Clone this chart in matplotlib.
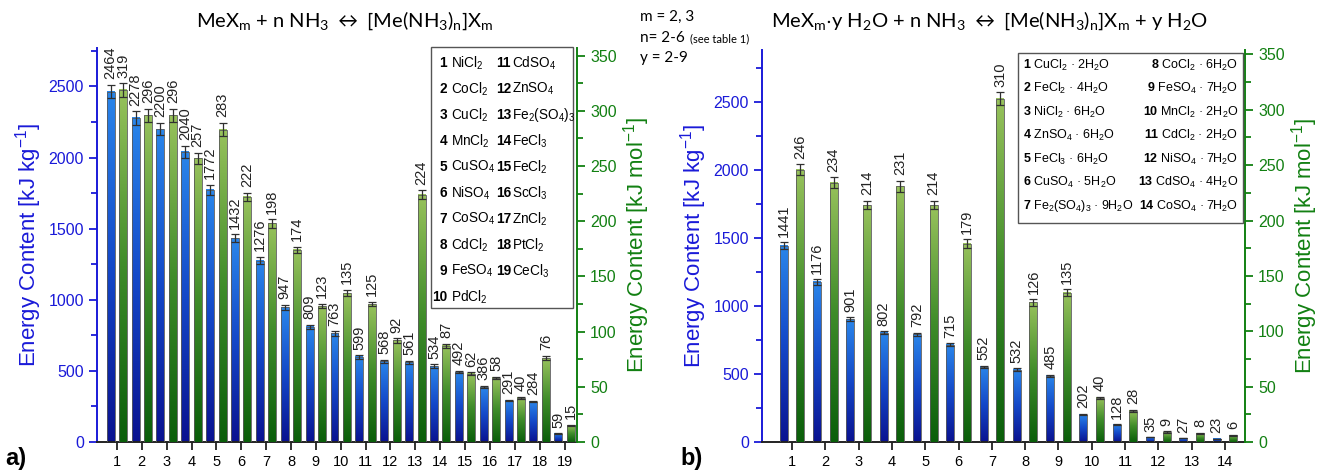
import numpy as np
import matplotlib
matplotlib.use("Agg")
import matplotlib.pyplot as plt
from matplotlib.colors import LinearSegmentedColormap
from matplotlib.patches import Rectangle
from matplotlib.ticker import MultipleLocator

plt.rcParams['font.family'] = ['Liberation Sans', 'DejaVu Sans']
plt.rcParams['mathtext.fontset'] = 'custom'
plt.rcParams['mathtext.rm'] = 'Liberation Sans'
plt.rcParams['mathtext.bf'] = 'Liberation Sans:bold'
plt.rcParams['mathtext.default'] = 'regular'

# ---- data: panel a) anhydrous salts ----
a_kg = [2464, 2278, 2200, 2040, 1772, 1432, 1276, 947, 809, 763,
        599, 568, 561, 534, 492, 386, 291, 284, 59]
a_kg_err = [49, 46, 44, 41, 35, 29, 26, 19, 16, 15, 12, 11, 11, 11, 10, 8, 6, 6, 2]
a_mol = [319, 296, 296, 257, 283, 222, 198, 174, 123, 135,
         125, 92, 224, 87, 62, 58, 40, 76, 15]
a_mol_err = [6, 6, 6, 5, 6, 4, 4, 3, 2, 3, 2, 2, 4, 2, 1, 1, 1, 2, 0.5]
a_names = ['NiCl$_2$', 'CoCl$_2$', 'CuCl$_2$', 'MnCl$_2$', 'CuSO$_4$', 'NiSO$_4$',
           'CoSO$_4$', 'CdCl$_2$', 'FeSO$_4$', 'PdCl$_2$', 'CdSO$_4$', 'ZnSO$_4$',
           'Fe$_2$(SO$_4$)$_3$', 'FeCl$_3$', 'FeCl$_2$', 'ScCl$_3$', 'ZnCl$_2$',
           'PtCl$_2$', 'CeCl$_3$']

# ---- data: panel b) hydrated salts ----
b_kg = [1441, 1176, 901, 802, 792, 715, 552, 532, 485, 202, 128, 35, 27, 23]
b_kg_err = [25, 20, 15, 12, 12, 10, 9, 9, 8, 4, 3, 1, 1, 1]
b_mol = [246, 234, 214, 231, 214, 179, 310, 126, 135, 40, 28, 9, 8, 6]
b_mol_err = [5, 5, 4, 5, 4, 4, 6, 3, 3, 1, 1, 0.5, 0.5, 0.5]
b_names = ['CuCl$_2$ · 2H$_2$O', 'FeCl$_2$ · 4H$_2$O', 'NiCl$_2$ · 6H$_2$O',
           'ZnSO$_4$ · 6H$_2$O', 'FeCl$_3$ · 6H$_2$O', 'CuSO$_4$ · 5H$_2$O',
           'Fe$_2$(SO$_4$)$_3$ · 9H$_2$O', 'CoCl$_2$ · 6H$_2$O', 'FeSO$_4$ · 7H$_2$O',
           'MnCl$_2$ · 2H$_2$O', 'CdCl$_2$ · 2H$_2$O', 'NiSO$_4$ · 7H$_2$O',
           'CdSO$_4$ · 4H$_2$O', 'CoSO$_4$ · 7H$_2$O']

BLUE = '#1a1ad8'
GREEN = '#128012'
blue_cm = LinearSegmentedColormap.from_list('b', ['#0a1290', '#1448c8', '#2a86ea'])
green_cm = LinearSegmentedColormap.from_list('g', ['#0a5e0a', '#3f8c2a', '#98c25c'])
grad = np.linspace(0, 1, 256).reshape(-1, 1)


def grad_bars(ax, x, h, err, w, cmap):
    bars = ax.bar(x, h, w, color='none', edgecolor='#5a5a5a', linewidth=0.6, zorder=3)
    for b in bars:
        x0 = b.get_x()
        ax.imshow(grad, extent=[x0, x0 + b.get_width(), 0, b.get_height()],
                  origin='lower', aspect='auto', cmap=cmap, zorder=2)
    ax.errorbar(x, h, yerr=err, fmt='none', ecolor='#303030', elinewidth=0.9,
                capsize=3, capthick=0.9, zorder=4)
    for xi, hi, ei in zip(x, h, err):
        ax.annotate(str(hi), (xi, hi + ei), xytext=(0, 4), textcoords='offset points',
                    rotation=90, ha='center', va='bottom', fontsize=10.5,
                    color='#222222', annotation_clip=False, zorder=5)


def panel(rect, kg, kg_err, mol, mol_err, xlim, ylim1, ylim2, w, off):
    ax = fig.add_axes(rect)
    ax2 = ax.twinx()
    n = len(kg)
    idx = np.arange(1, n + 1)
    grad_bars(ax, idx - off, kg, kg_err, w, blue_cm)
    grad_bars(ax2, idx + off, mol, mol_err, w, green_cm)
    ax.set_xlim(*xlim)
    ax.set_ylim(0, ylim1)
    ax2.set_ylim(0, ylim2)
    ax.set_xticks(idx)
    ax.set_xticklabels([str(i) for i in idx], fontsize=10.5)
    ax.yaxis.set_major_locator(MultipleLocator(500))
    ax.yaxis.set_minor_locator(MultipleLocator(250))
    ax2.yaxis.set_major_locator(MultipleLocator(50))
    ax2.yaxis.set_minor_locator(MultipleLocator(25))
    for a in (ax, ax2):
        a.spines['top'].set_visible(False)
        for s in a.spines.values():
            s.set_linewidth(1.4)
    ax.spines['right'].set_visible(False)
    ax2.spines['left'].set_visible(False)
    ax2.spines['bottom'].set_visible(False)
    ax.spines['left'].set_color(BLUE)
    ax2.spines['right'].set_color(GREEN)
    ax.spines['bottom'].set_color('#222222')
    ax.tick_params(axis='y', which='both', colors=BLUE, labelsize=11.5, direction='out')
    ax.tick_params(axis='y', which='major', length=6, width=1.3)
    ax.tick_params(axis='y', which='minor', length=4, width=1.3)
    ax2.tick_params(axis='y', which='both', colors=GREEN, labelsize=11.5, direction='out')
    ax2.tick_params(axis='y', which='major', length=6, width=1.3)
    ax2.tick_params(axis='y', which='minor', length=4, width=1.3)
    ax.tick_params(axis='x', length=6, width=1.3, direction='out', colors='#222222',
                   labelcolor='black')
    ax.set_ylabel('Energy Content [kJ kg$^{-1}$]', color=BLUE, fontsize=16, labelpad=3)
    ax2.set_ylabel('Energy Content [kJ mol$^{-1}$]', color=GREEN, fontsize=16, labelpad=3)
    return ax, ax2


fig = plt.figure(figsize=(13.26, 4.71), dpi=100)

W, H = 1326.0, 471.0
axa, axa2 = panel([97 / W, 29 / H, 480 / W, 394 / H], a_kg, a_kg_err, a_mol, a_mol_err,
                  (0.2, 19.5), 2770, 357, 0.32, 0.25)
axb, axb2 = panel([762 / W, 29 / H, 483 / W, 392 / H], b_kg, b_kg_err, b_mol, b_mol_err,
                  (0.1, 14.6), 2880, 354, 0.24, 0.25)


def px(x, y):
    return x / W, 1 - y / H


# ---- legend boxes (drawn by hand as in the original) ----
x0, y0 = px(431, 308)
fig.patches.append(Rectangle((x0, y0), 142 / W, 261 / H, transform=fig.transFigure,
                             facecolor='white', edgecolor='#555555', linewidth=1.0, zorder=10))
for i, name in enumerate(a_names):
    col, row = divmod(i, 10)
    y = 63 + 26 * row
    if col == 0:
        fig.text(*px(447, y), str(i + 1), ha='right', va='center', fontsize=9.8,
                 fontweight='bold', zorder=11)
        fig.text(*px(451, y), name, ha='left', va='center', fontsize=9.8, zorder=11)
    else:
        fig.text(*px(496, y), str(i + 1), ha='left', va='center', fontsize=9.8,
                 fontweight='bold', zorder=11)
        fig.text(*px(512, y), name, ha='left', va='center', fontsize=9.8, zorder=11)

x0, y0 = px(1018, 223)
fig.patches.append(Rectangle((x0, y0), 225 / W, 170 / H, transform=fig.transFigure,
                             facecolor='white', edgecolor='#555555', linewidth=1.0, zorder=10))
for i, name in enumerate(b_names):
    col, row = divmod(i, 7)
    y = 65 + 23.5 * row
    s = r'$\mathbf{%d}$ ' % (i + 1) + name
    if col == 0:
        fig.text(*px(1023, y), s, ha='left', va='center', fontsize=9, zorder=11)
    else:
        fig.text(*px(1238, y), s, ha='right', va='center', fontsize=9, zorder=11)

# ---- titles and notes ----
tfont = ['Lato', 'DejaVu Sans']
fig.text(345 / W, 1 - 21 / H,
         r'MeX$_m$ + n NH$_3$ $\leftrightarrow$ [Me(NH$_3$)$_n$]X$_m$',
         ha='center', va='center', fontsize=14.5, family=tfont)
fig.text(990 / W, 1 - 21 / H,
         r'MeX$_m$$\cdot$y H$_2$O + n NH$_3$ $\leftrightarrow$ [Me(NH$_3$)$_n$]X$_m$ + y H$_2$O',
         ha='center', va='center', fontsize=14.5, family=tfont)
fig.text(640 / W, 1 - 17 / H, 'm = 2, 3', ha='left', va='center', fontsize=11, family=tfont)
fig.text(640 / W, 1 - 38 / H, 'n= 2-6', ha='left', va='center', fontsize=11,
         family=tfont)
fig.text(690 / W, 1 - 39 / H, '(see table 1)', ha='left', va='center', fontsize=8,
         family=tfont)
fig.text(640 / W, 1 - 58 / H, 'y = 2-9', ha='left', va='center', fontsize=11, family=tfont)

fig.text(5 / W, 1 - 459 / H, 'a)', ha='left', va='center', fontsize=17, fontweight='bold')
fig.text(680 / W, 1 - 459 / H, 'b)', ha='left', va='center', fontsize=17, fontweight='bold')

fig.savefig('out.png', dpi=100)
